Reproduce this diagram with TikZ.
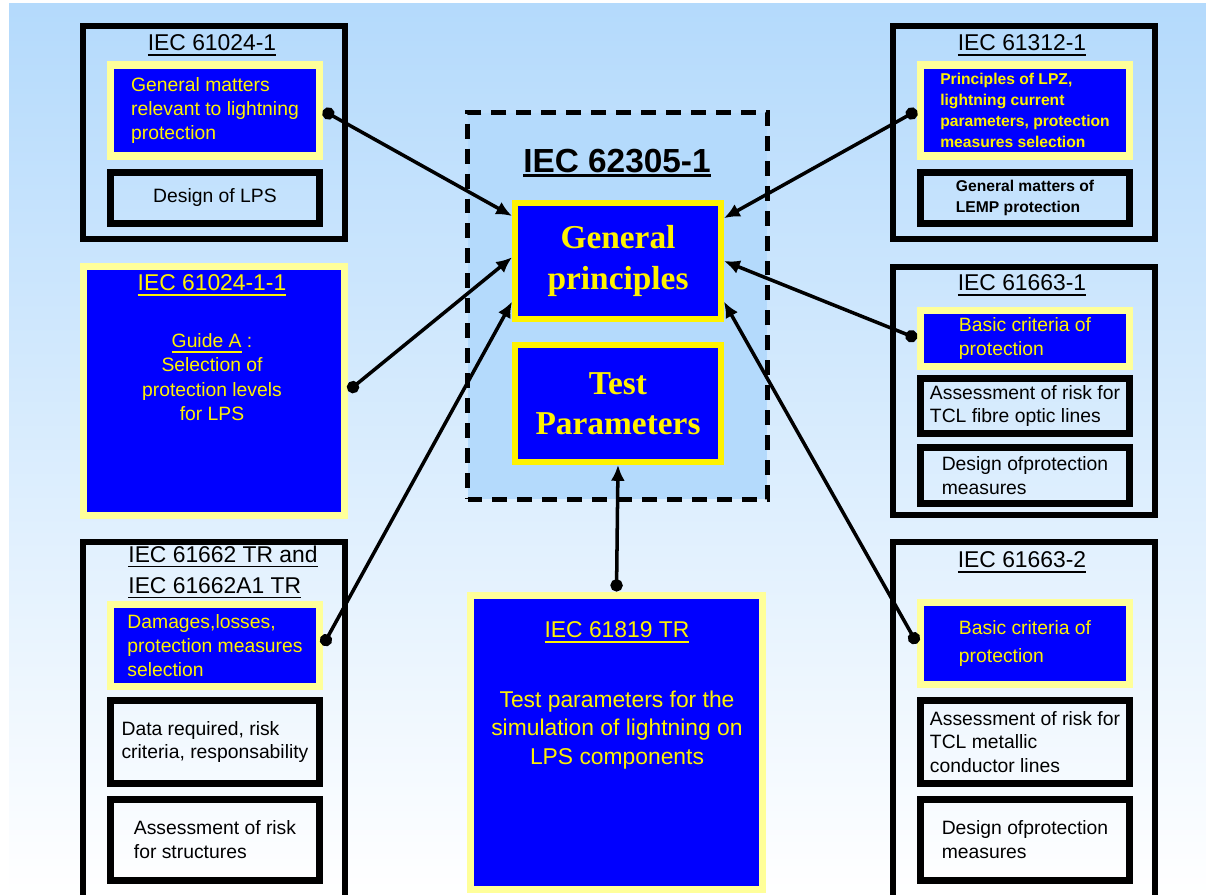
\documentclass[tikz,border=0pt]{standalone}
\usepackage{fontspec}
\setmainfont{Liberation Sans}
\newfontfamily\titlefont{Liberation Serif}
\usetikzlibrary{arrows.meta}

\definecolor{bgblue}{RGB}{180,218,252}
\definecolor{paleyellow}{RGB}{255,255,153}
\newcommand{\titleline}[2][1pt]{\leavevmode\setbox0=\hbox{#2}\rlap{\copy0}\rule[-3pt]{\wd0}{#1}}

\begin{document}
\begin{tikzpicture}[x=0.02cm, y=-0.02cm,
  frame/.style = {draw, line width=3.4pt, minimum width=5.24cm},
  yellowbox/.style = {draw=paleyellow, fill=blue, line width=4pt, minimum width=4.18cm, text=yellow, align=left, inner sep=1pt, font=\fontsize{11}{13.6}\selectfont},
  blackbox/.style = {draw, line width=4pt, minimum width=4.18cm, align=left, inner sep=1pt, font=\fontsize{11}{13.6}\selectfont},
  bigbox/.style = {draw=paleyellow, fill=blue, line width=4pt},
  smallbold/.style = {font=\fontsize{8.9}{11.8}\selectfont\bfseries},
  title/.style = {font=\fontsize{13}{16}\selectfont, inner sep=1pt},
  mainbox/.style = {draw=yellow, fill=blue, line width=3.4pt, minimum width=4.12cm, text=yellow, align=center, font=\titlefont\fontsize{19}{23}\selectfont\bfseries},
  groupbox/.style = {draw, fill=bgblue, line width=2.8pt, dash pattern=on 8.5pt off 5.7pt, minimum width=6cm, minimum height=7.74cm},
  link/.style = {line width=2pt, arrows={Circle[length=7pt]-Latex[length=9pt,width=8pt]}}]

  \useasboundingbox (0,0) rectangle (1206,895);
  \shade[top color=bgblue, middle color=bgblue!60!white, bottom color=white] (9,4) rectangle (1206,895);

  % centre
  \node[groupbox] (core) at (617.5,306) {};
  \node[font=\fontsize{19}{23}\selectfont\bfseries] (coretitle) at (617,163) {\titleline[1.6pt]{IEC 62305-1}};
  \node[mainbox, minimum height=2.32cm] (gp) at (618,261) {General\\principles};
  \node[mainbox, minimum height=2.34cm] (tp) at (618,403.5) {Test\\Parameters};

  % top left
  \node[frame, minimum height=4.26cm] (f1) at (214,132.5) {};
  \node[title] (t1) at (212,45) {\titleline{IEC 61024-1}};
  \node[yellowbox, minimum height=1.82cm] (y1) at (215,110.5) {General matters\\relevant to lightning\\protection};
  \node[blackbox, minimum height=1.02cm] (b1) at (215,198) {Design of LPS};

  % top right
  \node[frame, minimum height=4.26cm] (f2) at (1024,132.5) {};
  \node[title] (t2) at (1022,45) {\titleline{IEC 61312-1}};
  \node[yellowbox, smallbold, minimum height=1.82cm] (y2) at (1025,110.5) {Principles of LPZ,\\lightning current\\parameters, protection\\measures selection};
  \node[blackbox, smallbold, minimum height=1.02cm] (b2) at (1025,198) {General matters of\\LEMP protection};

  % left middle
  \node[bigbox, minimum width=5.23cm, minimum height=4.97cm] (g1) at (214,391) {};
  \node[title, text=yellow] (g1title) at (212,285) {\titleline{IEC 61024-1-1}};
  \node[text=yellow, align=center, font=\fontsize{11}{13.8}\selectfont] (g1text) at (212,377) {\titleline[0.8pt]{Guide A} :\\Selection of\\protection levels\\for LPS};

  % left bottom
  \node[frame, minimum height=8.36cm] (f3) at (214,751) {};
  \node[title, align=left, font=\fontsize{13}{17.6}\selectfont] (t3) at (223,572) {\titleline{IEC 61662 TR and}\\\titleline{IEC 61662A1 TR}};
  \node[yellowbox, minimum height=1.64cm] (y3) at (215,645.5) {Damages,losses,\\protection measures\\selection};
  \node[blackbox, minimum height=1.66cm] (b3) at (215,742) {Data required, risk\\criteria, responsability};
  \node[blackbox, minimum height=1.62cm] (b4) at (215,840) {Assessment of risk\\for structures};

  % right middle
  \node[frame, minimum height=4.96cm] (f4) at (1024,391) {};
  \node[title] (t4) at (1022,285) {\titleline{IEC 61663-1}};
  \node[yellowbox, minimum height=1.12cm] (y4) at (1025,338.5) {Basic criteria of\\protection};
  \node[blackbox, minimum height=1.1cm] (b5) at (1025,406) {Assessment of risk for\\TCL fibre optic lines};
  \node[blackbox, minimum height=1.12cm] (b6) at (1025,475.5) {Design ofprotection\\measures};

  % right bottom
  \node[frame, minimum height=8.36cm] (f5) at (1024,751) {};
  \node[title] (t5) at (1022,562) {\titleline{IEC 61663-2}};
  \node[yellowbox, minimum height=1.64cm, font=\fontsize{11}{16}\selectfont] (y5) at (1025,643.5) {Basic criteria of\\protection};
  \node[blackbox, minimum height=1.66cm] (b7) at (1025,742) {Assessment of risk for\\TCL metallic\\conductor lines};
  \node[blackbox, minimum height=1.62cm] (b8) at (1025,840) {Design ofprotection\\measures};

  % bottom centre
  \node[bigbox, minimum width=5.84cm, minimum height=5.9cm] (g2) at (616.5,742.5) {};
  \node[title, text=yellow] (g2title) at (617,632) {\titleline{IEC 61819 TR}};
  \node[text=yellow, align=center, font=\fontsize{13}{16}\selectfont] (g2text) at (617,730) {Test parameters for the\\simulation of lightning on\\LPS components};

  \draw[link] (y1.east) -- (gp.157);
  \draw[link] (y2.west) -- (gp.22);
  \draw[link] (g1.east) -- (gp.178);
  \draw[link] (y3.east) -- (gp.201);
  \draw[link] (y4.west) -- (gp.east);
  \draw[link] (y5.west) -- (gp.339);
  \draw[link] (g2.north) -- (tp.south);

\end{tikzpicture}
\end{document}
